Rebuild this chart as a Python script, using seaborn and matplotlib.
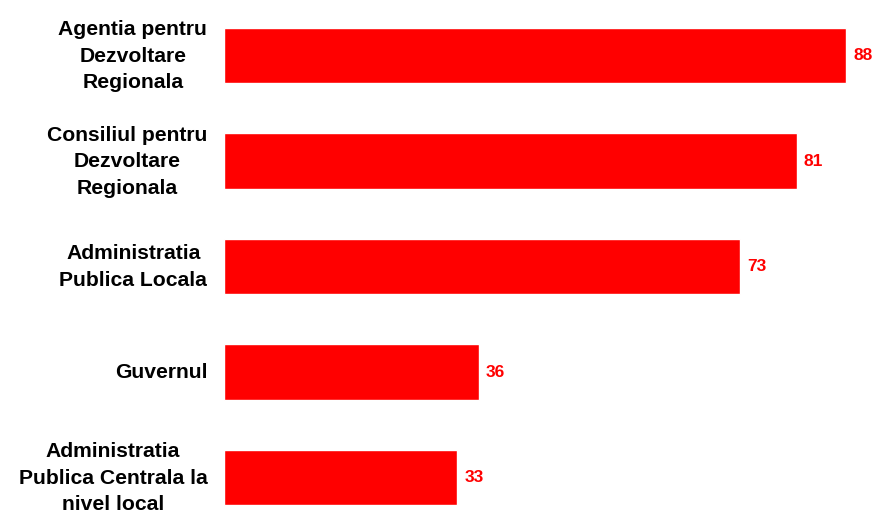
import matplotlib
matplotlib.use("Agg")
import matplotlib.pyplot as plt
import seaborn as sns
import pandas as pd

categories = ["Agentia pentru\nDezvoltare\nRegionala",
              "Consiliul pentru\nDezvoltare\nRegionala",
              "Administratia\nPublica Locala",
              "Guvernul",
              "Administratia\nPublica Centrala la\nnivel local"]
values = [88, 81, 73, 36, 33]

sns.set_theme(style="white")
plt.rcParams['font.family'] = ['Liberation Sans', 'DejaVu Sans']

df = pd.DataFrame({"cat": categories, "val": values})

fig = plt.figure(figsize=(8.72, 5.14), dpi=100)
ax = fig.add_axes([224/872, 0, 1 - 224/872, 1])
sns.barplot(data=df, x="val", y="cat", color="#FF0000", saturation=1,
            width=0.53, ax=ax, orient="h")
ax.set_xlim(0, 648/7.07)
ax.set_ylim(4 + 36.5/105.5, -55.5/105.5)
for s in ax.spines.values():
    s.set_visible(False)
ax.set_xticks([])
ax.set_xlabel("")
ax.set_ylabel("")
ax.tick_params(axis="y", length=0, labelleft=False)
for i, c in enumerate(categories):
    ax.annotate(c, xy=(0, i), xycoords=("axes fraction", "data"),
                xytext=(-12, -0.5), textcoords="offset points",
                ha="right", va="center", multialignment="center",
                fontsize=15.2, fontweight="bold", color="black",
                linespacing=1.5, annotation_clip=False)
for i, v in enumerate(values):
    ax.text(v + 1.0, i, str(v), color="#FF0000", fontweight="bold",
            fontsize=12.5, va="center", ha="left")
fig.savefig("out.png", dpi=100)
